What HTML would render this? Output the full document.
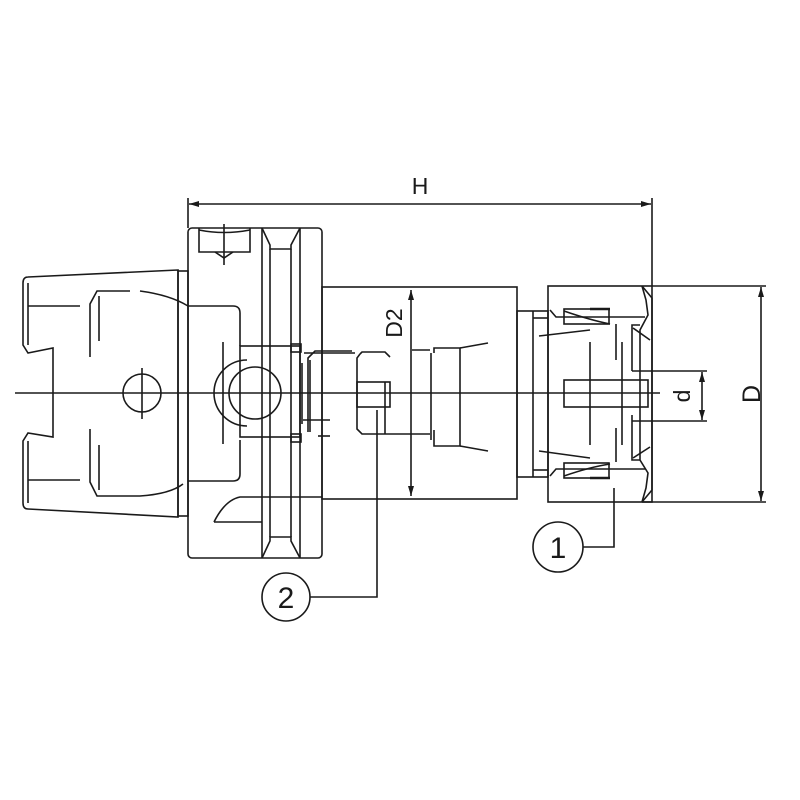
<!DOCTYPE html>
<html><head><meta charset="utf-8"><style>html,body{margin:0;padding:0;background:#fff}svg{display:block}</style></head>
<body>
<svg width="800" height="800" viewBox="0 0 800 800" xmlns="http://www.w3.org/2000/svg" fill="none" stroke="#1a1a1a" stroke-width="1.6" font-family="Liberation Sans, Arial, sans-serif">
<defs>
<marker id="a" viewBox="0 0 10 6" refX="10" refY="3" markerWidth="10" markerHeight="6" markerUnits="userSpaceOnUse" orient="auto-start-reverse"><path d="M0,0 L10,3 L0,6 z" fill="#1a1a1a" stroke="none"/></marker>
</defs>
<line x1="15" y1="393" x2="660" y2="393"/>
<line x1="188" y1="198" x2="188" y2="228"/>
<line x1="652" y1="198" x2="652" y2="286"/>
<line x1="189" y1="204" x2="651" y2="204" marker-start="url(#a)" marker-end="url(#a)"/>
<text x="420" y="194" font-size="23" fill="#1a1a1a" stroke="none" text-anchor="middle">H</text>

<path d="M178,270 L28,277 Q23,277 23,283 L23,345 L28,353 L53,348 L53,437 L28,433 L23,441 L23,503 Q23,509 28,509 L178,517 Z"/>
<line x1="28" y1="306" x2="80" y2="306"/>
<line x1="28" y1="480" x2="80" y2="480"/>
<line x1="28" y1="283" x2="28" y2="345"/>
<line x1="28" y1="441" x2="28" y2="503"/>
<path d="M90,357 L90,304 L97,291 L130,291"/>
<path d="M140,291 Q170,295 188,306"/>
<path d="M99,341 L99,296"/>
<path d="M90,429 L90,482 L97,496 L140,496 Q170,494 183,484"/>
<line x1="99" y1="445" x2="99" y2="490"/>
<rect x="178" y="271" width="10" height="245"/>
<circle cx="142" cy="393" r="19"/>
<line x1="142" y1="368" x2="142" y2="419"/>

<rect x="188" y="228" width="134" height="330" rx="4"/>
<line x1="262" y1="228" x2="262" y2="558"/>
<line x1="270" y1="249" x2="270" y2="537"/>
<line x1="291" y1="249" x2="291" y2="537"/>
<line x1="300" y1="228" x2="300" y2="558"/>
<path d="M262,228 L270,245 L270,249 L291,249 L291,245 L300,228"/>
<path d="M262,558 L270,541 L270,537 L291,537 L291,541 L300,558"/>
<path d="M199,228 L199,252 L250,252 L250,228"/>
<path d="M199,230 Q224,235 250,230"/>
<line x1="224" y1="224" x2="224" y2="265"/>
<path d="M215,252 L224,258 L233,252"/>
<path d="M214,522 Q225,500 240,497 L322,497"/>
<line x1="214" y1="522" x2="262" y2="522"/>
<path d="M188,306 L233,306 Q240,306 240,313 L240,346"/>
<path d="M188,481 L233,481 Q240,481 240,474 L240,440"/>
<line x1="223" y1="342" x2="223" y2="444"/>
<rect x="240" y="346" width="60" height="91"/>
<rect x="291" y="344" width="10" height="8"/>
<rect x="291" y="434" width="10" height="8"/>
<path d="M247,360 A33,33 0 1 0 247,426"/>
<circle cx="255" cy="393" r="26"/>

<rect x="322" y="287" width="195" height="212"/>
<path d="M308,432 L308,358 L315,351 L352,351"/>
<line x1="310" y1="360" x2="310" y2="432"/>
<line x1="302" y1="363" x2="302" y2="424"/>
<line x1="303" y1="420" x2="330" y2="420"/>
<line x1="318" y1="436" x2="330" y2="436"/>
<line x1="304" y1="353" x2="355" y2="353"/>
<path d="M360,354 L362,352 L385,352 L390,357"/>
<path d="M360,354 L357,358 L357,429 L362,434 L430,434"/>
<rect x="357" y="382" width="33" height="25"/>
<line x1="385" y1="382" x2="385" y2="434"/>
<line x1="412" y1="350" x2="430" y2="350"/>
<path d="M434,353 L434,348 L460,348 L460,446 L434,446 L434,430"/>
<line x1="431" y1="353" x2="431" y2="440"/>
<line x1="460" y1="348" x2="488" y2="343"/>
<line x1="460" y1="446" x2="488" y2="451"/>
<line x1="411" y1="290" x2="411" y2="496" marker-start="url(#a)" marker-end="url(#a)"/>
<text transform="translate(402,323) rotate(-90)" font-size="23" fill="#1a1a1a" stroke="none" text-anchor="middle">D2</text>

<rect x="517" y="311" width="31" height="166"/>
<line x1="533" y1="311" x2="533" y2="477"/>
<line x1="533" y1="318" x2="548" y2="318"/>
<line x1="533" y1="470" x2="548" y2="470"/>

<rect x="548" y="286" width="104" height="216"/>
<path d="M642,286 L652,298 L652,490 L642,502"/>
<path d="M642,286 L646,300 L648,315 L640,330 L640,460 L648,473 L646,488 L642,502"/>
<path d="M550,310 L556,317 L645,317"/>
<path d="M550,476 L556,469 L645,469"/>
<rect x="564" y="309" width="45" height="15"/>
<rect x="564" y="463" width="45" height="15"/>
<line x1="590" y1="309" x2="610" y2="309" stroke-width="2.5"/>
<line x1="590" y1="478" x2="610" y2="478" stroke-width="2.5"/>
<path d="M564,311 Q590,320 610,324"/>
<path d="M564,476 Q590,467 610,464"/>
<line x1="539" y1="336" x2="590" y2="330"/>
<line x1="539" y1="451" x2="590" y2="458"/>
<line x1="590" y1="342" x2="590" y2="445"/>
<line x1="616" y1="324" x2="616" y2="360"/>
<line x1="616" y1="428" x2="616" y2="462"/>
<line x1="622" y1="342" x2="622" y2="445"/>
<path d="M632,371 L632,325 L640,325"/>
<path d="M632,415 L632,460 L640,460"/>
<line x1="633" y1="328" x2="650" y2="340"/>
<line x1="633" y1="458" x2="650" y2="447"/>
<rect x="564" y="380" width="84" height="27"/>
<line x1="632" y1="371" x2="707" y2="371"/>
<line x1="632" y1="421" x2="707" y2="421"/>
<line x1="702" y1="372" x2="702" y2="420" marker-start="url(#a)" marker-end="url(#a)"/>
<text transform="translate(690,396) rotate(-90)" font-size="23" fill="#1a1a1a" stroke="none" text-anchor="middle">d</text>
<line x1="652" y1="286" x2="766" y2="286"/>
<line x1="642" y1="502" x2="766" y2="502"/>
<line x1="761" y1="287" x2="761" y2="501" marker-start="url(#a)" marker-end="url(#a)"/>
<text transform="translate(760,394) rotate(-90)" font-size="25" fill="#1a1a1a" stroke="none" text-anchor="middle">D</text>

<circle cx="558" cy="547" r="25"/>
<text x="558" y="558" font-size="30" fill="#1a1a1a" stroke="none" text-anchor="middle">1</text>
<path d="M583,547 L614,547 L614,488"/>
<circle cx="286" cy="597" r="24"/>
<text x="286" y="608" font-size="30" fill="#1a1a1a" stroke="none" text-anchor="middle">2</text>
<path d="M310,597 L377,597 L377,410"/>
</svg>
</body></html>
